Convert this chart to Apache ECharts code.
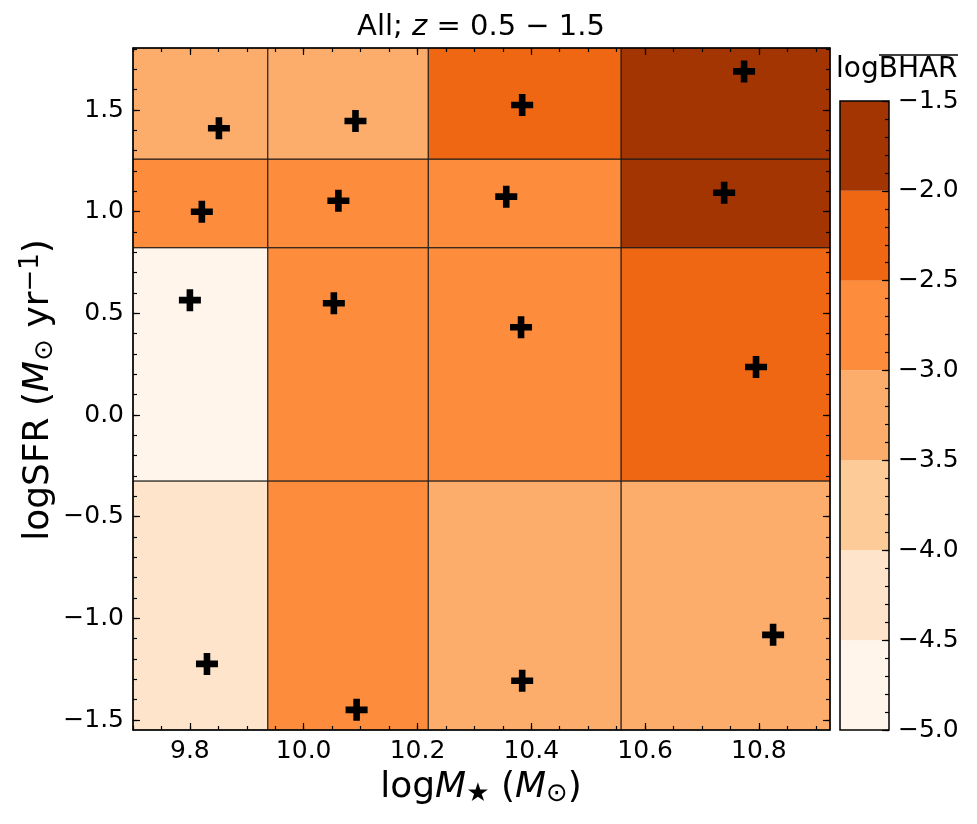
<!DOCTYPE html>
<html lang="en">
<head>
    <meta charset="UTF-8" />
    <title>BHAR map</title>
    <style>
        html, body { margin: 0; padding: 0; background: #fff; }
    </style>
</head>
<body>
<div id="main" style="width: 977px; height: 824px;"></div>
<script src="https://cdn.jsdelivr.net/npm/echarts@6/dist/echarts.min.js"></script>
<script type="text/javascript">
    // bin edges (logM*, logSFR)
    var xEdges = [9.7, 9.937, 10.219, 10.558, 10.925];
    var yEdges = [-1.549, -0.324, 0.823, 1.259, 1.805];
    // mean log BHAR per bin, rows bottom -> top, cols left -> right
    var cellValues = [
        [-4.2, -2.8, -3.3, -3.2],
        [-4.7, -2.7, -2.8, -2.3],
        [-2.9, -2.8, -2.7, -1.8],
        [-3.3, -3.4, -2.2, -1.7]
    ];
    // median positions of the sources in each bin
    var crossX = [9.83, 10.093, 10.384, 10.825,
                  9.80, 10.053, 10.382, 10.795,
                  9.821, 10.061, 10.356, 10.739,
                  9.851, 10.091, 10.384, 10.774];
    var crossY = [-1.224, -1.45, -1.307, -1.081,
                  0.565, 0.55, 0.432, 0.236,
                  1.0, 1.054, 1.074, 1.093,
                  1.41, 1.446, 1.525, 1.69];
    // colour bar
    var cbLevels = [-5.0, -4.5, -4.0, -3.5, -3.0, -2.5, -2.0, -1.5];
    var cbColors = ['#fff5eb', '#fee4ca', '#fdcb98', '#fdad6b', '#fd8c3c', '#ef6712', '#a33503'];
    // tick labels
    var xTicks = [9.8, 10.0, 10.2, 10.4, 10.6, 10.8];
    var yTicks = [-1.5, -1.0, -0.5, 0.0, 0.5, 1.0, 1.5];

    function minorTicks(lo, hi, step) {
        var out = [];
        var k = Math.ceil(lo / step - 1e-9);
        for (; k * step <= hi + 1e-9; k++) out.push(+(k * step).toFixed(3));
        return out;
    }
    var xMinor = minorTicks(xEdges[0], xEdges[4], 0.05);
    var yMinor = minorTicks(yEdges[0], yEdges[4], 0.1);
    var cbMinor = minorTicks(-5, -1.5, 0.1);

    function colorFor(v) {
        for (var i = 0; i < cbColors.length; i++) {
            if (v < cbLevels[i + 1]) return cbColors[i];
        }
        return cbColors[cbColors.length - 1];
    }
    function fmt(v) {
        return (v < 0 ? '\u2212' : '') + Math.abs(v).toFixed(1);
    }

    var cells = [];
    for (var r = 0; r < cellValues.length; r++) {
        for (var c = 0; c < cellValues[r].length; c++) {
            cells.push([xEdges[c], xEdges[c + 1], yEdges[r], yEdges[r + 1], cellValues[r][c]]);
        }
    }
    var crosses = crossX.map(function (x, i) { return [x, crossY[i]]; });
    var bands = cbColors.map(function (col, i) { return [0, 1, cbLevels[i], cbLevels[i + 1], i]; });

    var FONT = 'DejaVu Sans';
    var lbl = { color: '#000', fontFamily: FONT, fontSize: 25 };

    function ax(grid, pos, major, values, showLabel, lo, hi) {
        return {
            type: 'value', gridIndex: grid, position: pos, z: 10,
            min: lo, max: hi,
            axisLine: { show: major, onZero: false, lineStyle: { color: '#000', width: 1.5 } },
            axisTick: { show: true, inside: true, length: major ? 7 : 4, customValues: values,
                        lineStyle: { color: '#000', width: 1.2 } },
            axisLabel: showLabel ? Object.assign({ show: true, margin: 9, customValues: values,
                        formatter: function (v) { return fmt(v); } }, lbl) : { show: false },
            splitLine: { show: false }
        };
    }
    function xAx(grid, pos, major, values, showLabel) {
        return ax(grid, pos, major, values, showLabel, xEdges[0], xEdges[4]);
    }
    function yAx(grid, pos, major, values, showLabel) {
        return ax(grid, pos, major, values, showLabel, yEdges[0], yEdges[4]);
    }
    function cbAx(grid, major, values, showLabel) {
        var a = ax(grid, 'right', major, values, showLabel, -5, -1.5);
        a.axisLine.show = false;
        return a;
    }

    var myChart = echarts.init(document.getElementById('main'));

    var option = {
        backgroundColor: '#fff',
        animation: false,
        grid: [
            { left: 133, top: 48, width: 697, height: 682 },
            { left: 133, top: 48, width: 697, height: 682 },
            { left: 840, top: 101, width: 49, height: 629 },
            { left: 840, top: 101, width: 49, height: 629, show: true, z: 10,
              backgroundColor: 'transparent', borderColor: '#000', borderWidth: 1.5 }
        ],
        xAxis: [
            xAx(0, 'bottom', true, xTicks, true),
            xAx(0, 'top', true, xTicks, false),
            xAx(1, 'bottom', false, xMinor, false),
            xAx(1, 'top', false, xMinor, false),
            { type: 'value', gridIndex: 2, min: 0, max: 1, show: false },
            { type: 'value', gridIndex: 3, min: 0, max: 1, show: false }
        ],
        yAxis: [
            yAx(0, 'left', true, yTicks, true),
            yAx(0, 'right', true, yTicks, false),
            yAx(1, 'left', false, yMinor, false),
            yAx(1, 'right', false, yMinor, false),
            cbAx(2, true, cbLevels, true),
            cbAx(3, false, cbMinor, false)
        ],
        series: [
            {
                type: 'custom', xAxisIndex: 0, yAxisIndex: 0,
                data: cells,
                encode: { x: [0, 1], y: [2, 3] },
                renderItem: function (params, api) {
                    var p0 = api.coord([api.value(0), api.value(3)]);
                    var p1 = api.coord([api.value(1), api.value(2)]);
                    return {
                        type: 'rect',
                        shape: { x: p0[0], y: p0[1], width: p1[0] - p0[0], height: p1[1] - p0[1] },
                        style: { fill: colorFor(api.value(4)), stroke: '#1a1a1a', lineWidth: 1 }
                    };
                }
            },
            {
                type: 'scatter', xAxisIndex: 0, yAxisIndex: 0, z: 5,
                data: crosses,
                symbol: 'path://M3.5,0h3v3.5h3.5v3h-3.5v3.5h-3v-3.5h-3.5v-3h3.5z',
                symbolSize: 22,
                itemStyle: { color: '#000', opacity: 1 }
            },
            {
                type: 'custom', xAxisIndex: 4, yAxisIndex: 4,
                data: bands,
                encode: { x: [0, 1], y: [2, 3] },
                renderItem: function (params, api) {
                    var p0 = api.coord([api.value(0), api.value(3)]);
                    var p1 = api.coord([api.value(1), api.value(2)]);
                    return {
                        type: 'rect',
                        shape: { x: p0[0], y: p0[1], width: p1[0] - p0[0], height: p1[1] - p0[1] },
                        style: { fill: cbColors[api.value(4)] }
                    };
                }
            }
        ],
        graphic: [
            {
                type: 'text', x: 481, y: 27,
                style: {
                    text: '{n|All; }{i|z}{n| = 0.5 \u2212 1.5}',
                    align: 'center', verticalAlign: 'middle',
                    rich: {
                        n: { fontFamily: FONT, fontSize: 29, color: '#000' },
                        i: { fontFamily: FONT, fontSize: 29, fontStyle: 'italic', color: '#000' }
                    }
                }
            },
            {
                type: 'text', x: 481, y: 788,
                style: {
                    text: '{n|log}{i|M}{s|\u2605}{n| (}{i|M}{s|\u2299}{n|)}',
                    align: 'center', verticalAlign: 'middle',
                    rich: {
                        n: { fontFamily: FONT, fontSize: 36, color: '#000' },
                        i: { fontFamily: FONT, fontSize: 36, fontStyle: 'italic', color: '#000' },
                        s: { fontFamily: FONT, fontSize: 26, color: '#000', padding: [13, 0, 0, 0] }
                    }
                }
            },
            {
                type: 'text', x: 39, y: 390, rotation: Math.PI / 2,
                style: {
                    text: '{n|logSFR (}{i|M}{s|\u2299}{n| yr}{p|\u22121}{n|)}',
                    align: 'center', verticalAlign: 'middle',
                    rich: {
                        n: { fontFamily: FONT, fontSize: 36, color: '#000' },
                        i: { fontFamily: FONT, fontSize: 36, fontStyle: 'italic', color: '#000' },
                        s: { fontFamily: FONT, fontSize: 26, color: '#000', padding: [13, 0, 0, 0] },
                        p: { fontFamily: FONT, fontSize: 26, color: '#000', padding: [0, 0, 15, 0] }
                    }
                }
            },
            {
                type: 'text', x: 836, y: 70,
                style: {
                    text: 'logBHAR', fontFamily: FONT, fontSize: 28, fill: '#000',
                    align: 'left', verticalAlign: 'middle'
                }
            },
            {
                type: 'line',
                shape: { x1: 879, y1: 55, x2: 958, y2: 55 },
                style: { stroke: '#000', lineWidth: 1.3 }
            }
        ]
    };

    myChart.setOption(option);
</script>
</body>
</html>
